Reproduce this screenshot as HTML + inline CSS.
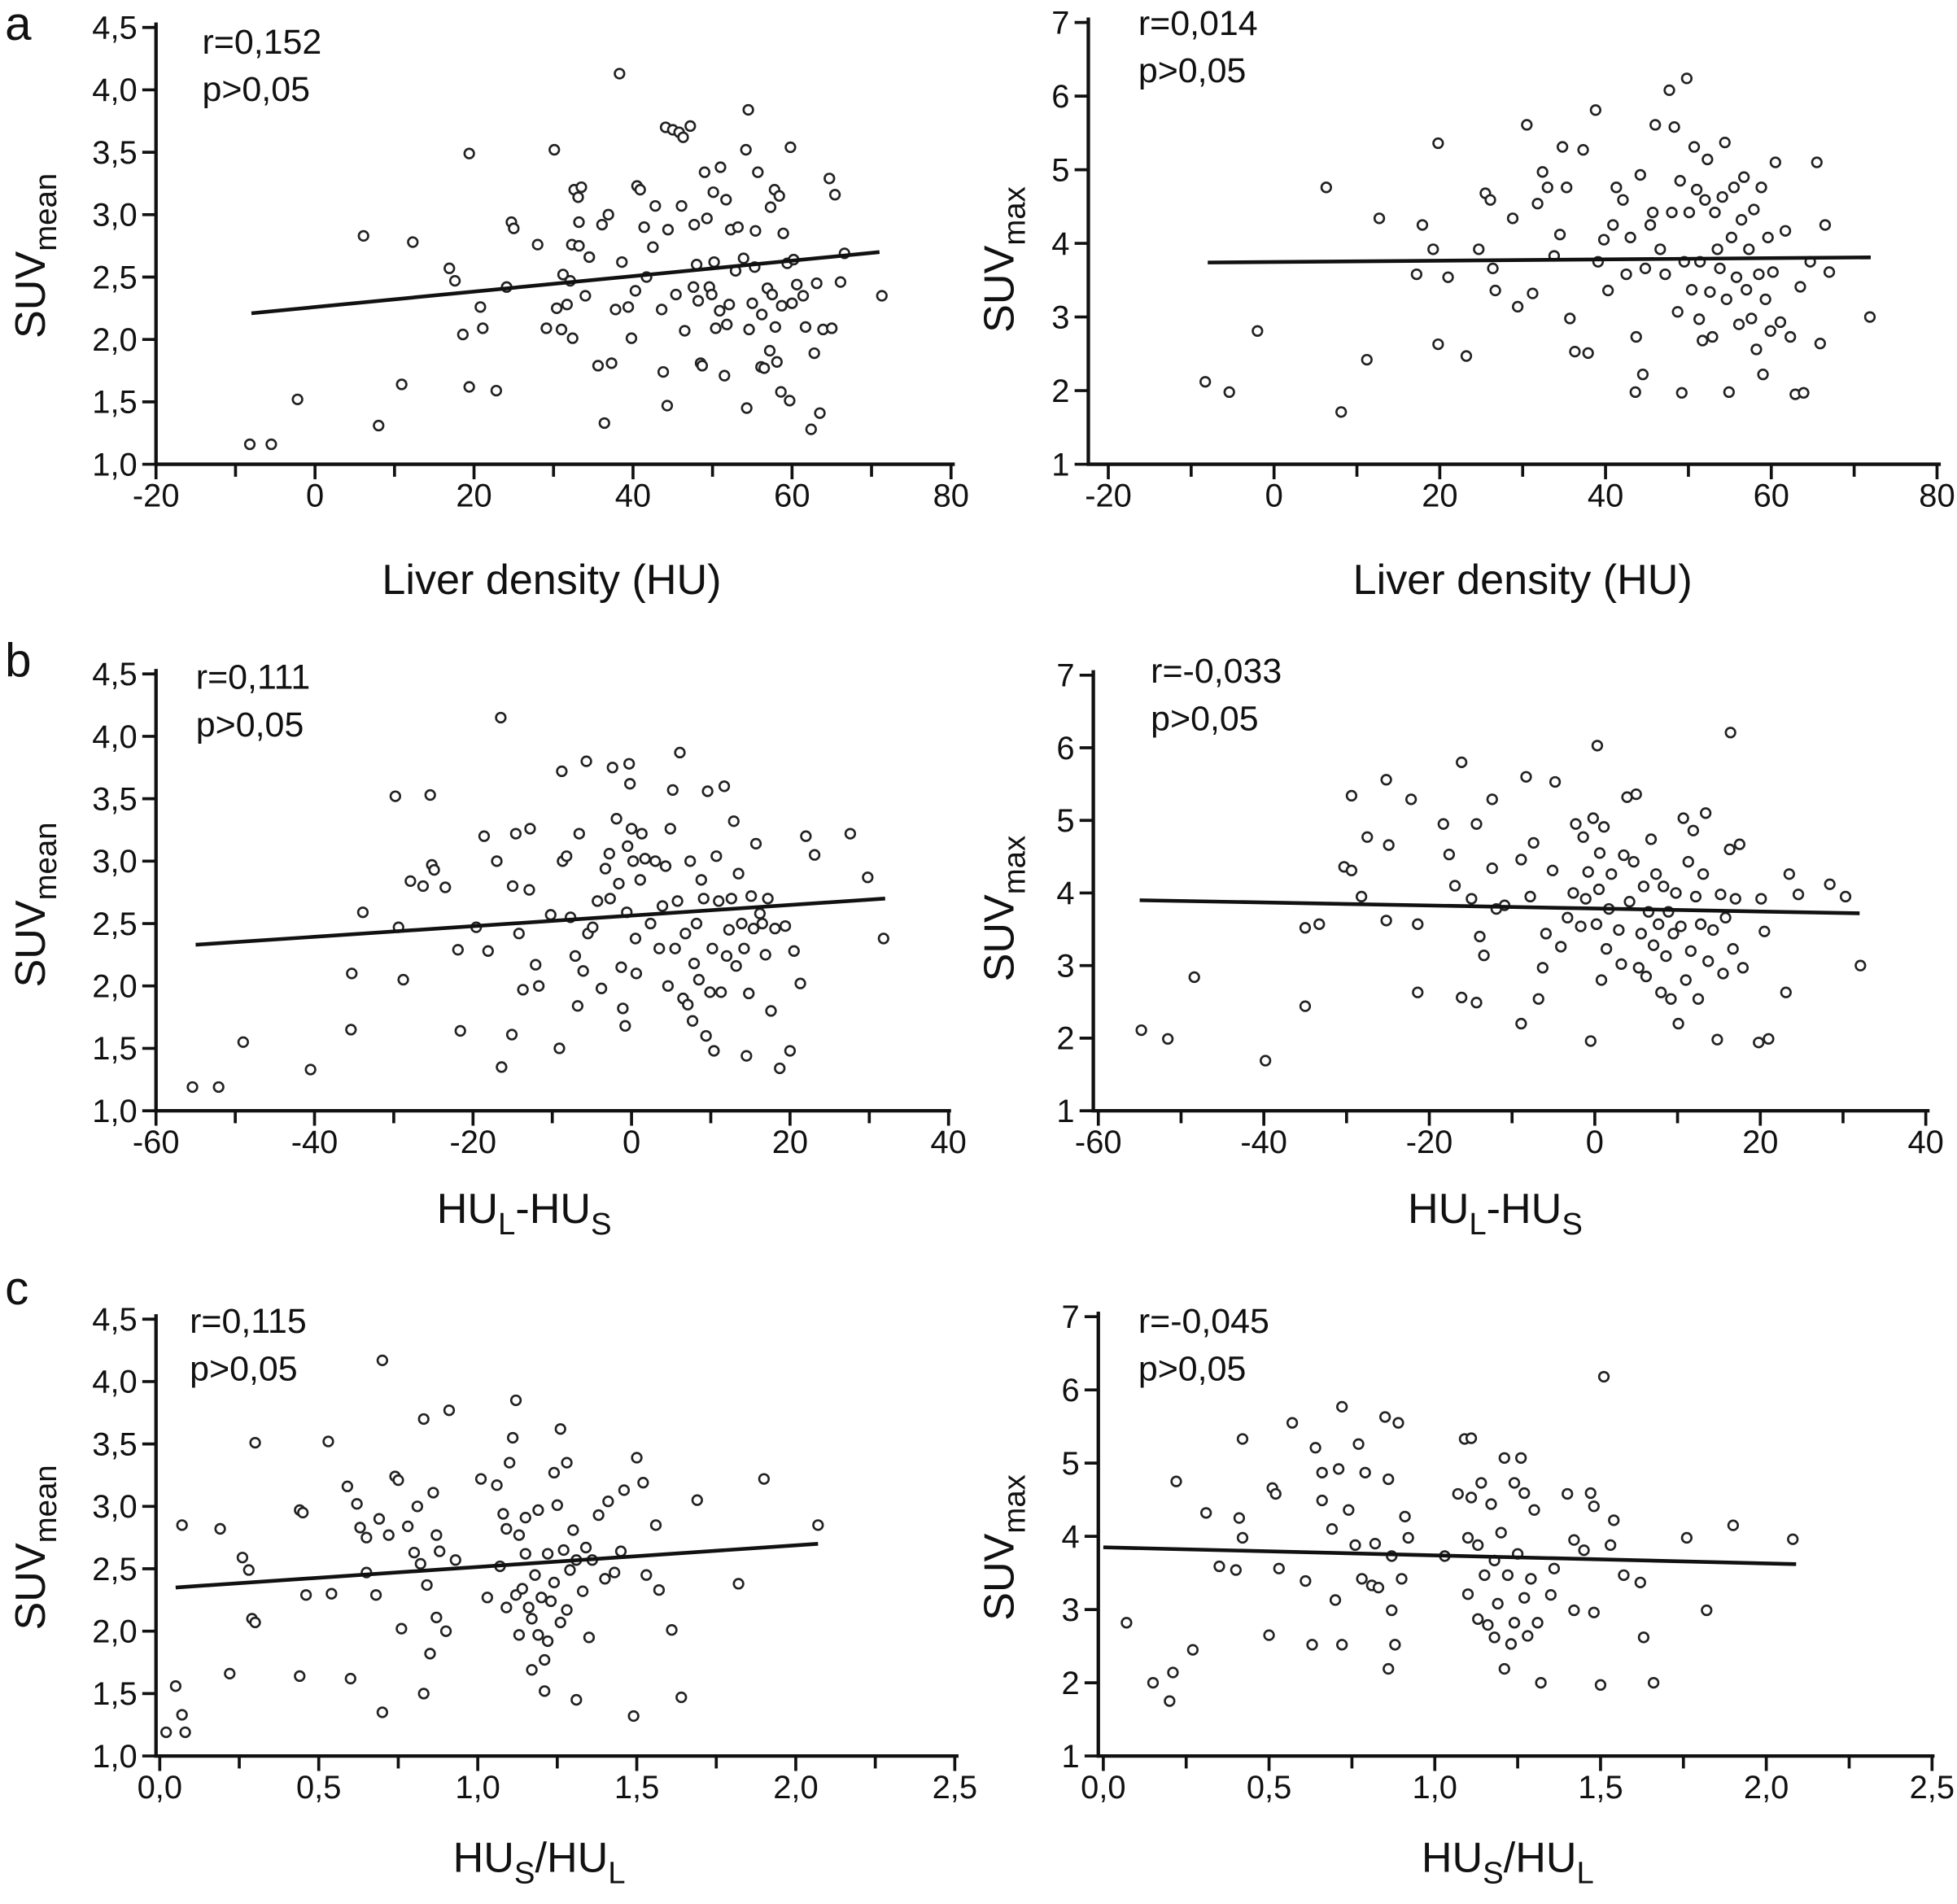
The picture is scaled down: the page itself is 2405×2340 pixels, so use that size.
<!DOCTYPE html>
<html><head><meta charset="utf-8"><style>
html,body{margin:0;padding:0;background:#fff}
svg{display:block}
text{font-family:"Liberation Sans",Arial,sans-serif;fill:#111}
</style></head><body>
<svg id="fig" width="2405" height="2340" viewBox="0 0 1568 1525.6" preserveAspectRatio="none" xmlns="http://www.w3.org/2000/svg">
<rect width="1568" height="1526" fill="#fff"/>
<text x="4" y="32" font-size="38">a</text>
<text x="4" y="542" font-size="38">b</text>
<text x="4" y="1045" font-size="38">c</text>
</svg>
<script>
// ---- data arrays ----
const aMeanX=[-8.2,-5.5,-2.2,6.1,8.0,10.9,12.3,16.9,17.6,18.6,19.4,19.4,20.8,21.1,22.8,24.1,24.7,25.0,28.0,29.1,30.1,30.4,31.0,31.2,31.7,32.1,32.3,32.4,32.6,33.1,33.2,33.2,33.5,34.0,34.5,35.6,36.1,36.4,36.9,37.3,37.8,38.3,38.6,39.4,39.8,40.3,40.5,40.9,41.4,41.7,42.5,42.8,43.6,43.8,44.1,44.3,44.4,45.0,45.4,45.8,46.1,46.3,46.5,47.2,47.6,47.7,48.0,48.2,48.5,48.7,49.0,49.3,49.6,49.9,50.1,50.2,50.4,50.9,51.0,51.5,51.7,51.8,52.1,52.3,52.9,53.2,53.9,54.2,54.3,54.5,54.6,55.0,55.3,55.4,55.7,56.1,56.2,56.5,56.9,57.2,57.3,57.5,57.8,57.9,58.1,58.4,58.6,58.7,58.9,59.4,59.7,59.8,60.0,60.2,60.6,61.4,61.7,62.4,62.8,63.1,63.5,63.9,64.7,65.0,65.4,66.1,66.6,71.3];
const aMeanY=[1.16,1.16,1.52,2.83,1.31,1.64,2.78,2.57,2.47,2.04,3.49,1.62,2.26,2.09,1.59,2.42,2.94,2.89,2.76,2.09,3.52,2.25,2.08,2.52,2.28,2.47,2.76,2.01,3.2,3.14,2.75,2.94,3.22,2.35,2.66,1.79,2.92,1.33,3.0,1.81,2.24,4.13,2.62,2.26,2.01,2.39,3.23,3.2,2.9,2.5,2.74,3.07,2.24,1.74,3.7,1.47,2.88,3.68,2.36,3.66,3.07,3.62,2.07,3.71,2.42,2.92,2.6,2.31,1.81,1.79,3.34,2.97,2.42,2.36,3.18,2.62,2.09,2.23,3.38,1.71,3.12,2.12,2.28,2.88,2.55,2.9,2.65,3.52,1.45,3.84,2.08,2.29,2.58,2.87,3.34,1.78,2.2,1.77,2.41,1.91,3.06,2.36,3.2,2.1,1.82,3.15,1.58,2.27,2.85,2.61,1.51,3.54,2.29,2.64,2.44,2.35,2.1,1.28,1.89,2.45,1.41,2.08,3.29,2.09,3.16,2.46,2.69,2.35];
const aMeanFit=[[-8,2.21],[71,2.70]];
const aMaxX=[-8.3,-5.4,-2.0,6.3,8.1,11.2,12.7,17.2,17.9,19.2,19.8,19.8,21.0,23.2,24.7,25.5,26.1,26.4,26.7,28.8,29.4,30.5,31.2,31.8,32.4,33.0,33.8,34.5,34.8,35.3,35.7,36.3,37.3,37.9,38.8,39.1,39.8,40.3,40.9,41.3,42.1,42.5,43.0,43.6,43.7,44.2,44.5,44.8,45.4,45.7,46.0,46.6,47.2,47.7,48.0,48.3,48.7,49.0,49.2,49.5,49.8,50.1,50.4,50.7,51.0,51.3,51.4,51.7,52.0,52.3,52.6,52.9,53.2,53.5,53.8,54.1,54.4,54.6,54.9,55.2,55.5,55.8,56.1,56.4,56.7,57.0,57.3,57.6,57.9,58.2,58.5,58.8,59.0,59.3,59.6,59.9,60.2,60.5,61.1,61.7,62.3,62.9,63.5,63.9,64.7,65.5,65.9,66.5,67.0,71.9];
const aMaxY=[2.12,1.98,2.81,4.76,1.71,2.42,4.34,3.58,4.25,3.92,5.36,2.63,3.54,2.47,3.92,4.68,4.59,3.66,3.36,4.34,3.14,5.61,3.32,4.54,4.97,4.76,3.83,4.12,5.31,4.76,2.98,2.53,5.27,2.51,5.81,3.75,4.05,3.36,4.25,4.76,4.59,3.58,4.08,1.98,2.73,4.93,2.22,3.66,4.25,4.42,5.61,3.92,3.58,6.08,4.42,5.58,3.07,4.85,1.97,3.75,6.24,4.42,3.37,5.31,4.73,2.97,3.75,2.68,4.59,5.14,3.34,2.73,4.42,3.92,3.66,4.63,5.37,3.24,1.98,4.08,4.76,3.54,2.9,4.32,4.9,3.37,3.92,2.98,4.46,2.56,3.58,4.76,2.22,3.24,4.08,2.81,3.61,5.1,2.93,4.17,2.73,1.95,3.41,1.97,3.75,5.1,2.64,4.25,3.61,3.0];
const aMaxFit=[[-8,3.74],[72,3.81]];
const bMeanX=[-55.4,-52.1,-49.0,-40.5,-35.4,-35.3,-33.9,-29.8,-29.4,-28.8,-27.9,-26.3,-25.4,-25.2,-24.9,-23.5,-21.9,-21.6,-19.6,-18.6,-18.1,-17.0,-16.5,-16.4,-15.1,-15.0,-14.6,-14.2,-13.7,-12.9,-12.8,-12.1,-11.7,-10.2,-9.1,-8.8,-8.7,-8.2,-7.7,-7.1,-6.8,-6.6,-6.1,-5.7,-5.5,-4.9,-4.3,-3.8,-3.3,-2.8,-2.7,-2.4,-1.9,-1.6,-1.3,-1.1,-0.8,-0.6,-0.5,-0.3,-0.2,0.0,0.2,0.5,0.6,1.1,1.3,1.7,2.4,3.0,3.5,3.9,4.3,4.6,4.9,5.2,5.5,5.8,6.1,6.5,6.8,7.1,7.4,7.7,7.9,8.2,8.5,8.8,9.1,9.4,9.6,9.9,10.2,10.4,10.7,11.0,11.3,11.7,12.0,12.3,12.6,12.9,13.2,13.5,13.9,14.2,14.5,14.8,15.1,15.4,15.7,16.2,16.5,16.9,17.2,17.6,18.1,18.7,19.4,20.0,20.5,21.3,22.0,23.1,27.6,29.8,31.8];
const bMeanY=[1.19,1.19,1.55,1.33,1.65,2.1,2.59,3.52,2.47,2.05,2.84,2.8,3.53,2.97,2.93,2.79,2.29,1.64,2.47,3.2,2.28,3.0,4.15,1.35,1.61,2.8,3.22,2.42,1.97,2.77,3.26,2.17,2.0,2.57,1.5,3.72,3.0,3.04,2.55,2.24,1.84,3.22,2.12,3.8,2.42,2.47,2.68,1.98,2.94,3.06,2.7,3.75,3.34,2.82,2.15,1.82,1.68,2.59,3.12,3.78,3.62,3.26,3.0,2.38,2.1,2.85,3.22,3.02,2.5,3.0,2.3,2.64,2.96,2.0,3.26,3.57,2.3,2.68,3.87,1.9,2.42,1.85,3.0,1.72,2.18,2.5,2.05,2.85,2.7,1.6,3.56,1.95,2.3,1.48,3.04,2.68,1.95,3.6,2.24,2.45,2.7,3.32,2.16,2.9,2.5,2.3,1.44,1.94,2.72,2.46,3.14,2.58,2.5,2.25,2.7,1.8,2.46,1.34,2.48,1.48,2.28,2.02,3.2,3.05,3.22,2.87,2.38];
const bMeanFit=[[-55,2.33],[32,2.70]];
const bMaxX=[-54.8,-51.6,-48.4,-39.8,-35.0,-35.0,-33.3,-30.3,-29.4,-29.4,-28.2,-27.5,-25.2,-25.2,-24.9,-22.2,-21.4,-21.4,-18.3,-17.6,-16.9,-16.1,-16.1,-14.9,-14.3,-14.3,-13.9,-13.4,-12.4,-12.4,-11.9,-10.9,-8.9,-8.9,-8.3,-7.8,-7.4,-6.8,-6.3,-5.9,-5.1,-4.8,-4.1,-3.3,-2.6,-2.3,-1.7,-1.4,-1.1,-0.8,-0.5,-0.2,0.2,0.3,0.5,0.6,0.8,1.1,1.4,1.7,2.0,2.9,3.2,3.5,3.9,4.2,4.7,5.0,5.3,5.6,5.9,6.2,6.5,6.8,7.1,7.4,7.7,8.0,8.3,8.6,8.9,9.2,9.5,9.8,10.1,10.4,10.7,11.0,11.3,11.6,11.9,12.2,12.5,12.8,13.1,13.4,13.7,14.3,14.8,15.2,15.5,15.8,16.3,16.4,16.7,17.0,17.5,17.9,19.8,20.1,20.5,21.0,23.1,23.5,24.6,28.4,30.3,32.1];
const bMaxY=[2.11,1.99,2.84,1.69,2.44,3.52,3.57,4.36,5.34,4.31,3.95,4.77,3.62,5.56,4.66,5.29,2.63,3.57,4.95,4.53,4.1,5.8,2.56,3.92,2.49,4.95,3.4,3.14,5.29,4.34,3.78,3.83,2.2,4.46,5.6,3.95,4.69,2.54,2.97,3.44,4.31,5.53,3.26,3.66,4.0,4.95,3.54,4.77,3.92,4.29,1.96,5.03,3.57,6.03,4.05,4.55,2.8,4.91,3.23,3.78,4.26,3.49,3.02,4.52,5.32,3.88,4.43,5.36,2.97,3.44,4.09,2.85,3.74,4.74,3.28,4.26,3.57,2.63,4.09,3.13,3.74,2.54,3.44,4.0,2.2,3.54,5.03,2.8,4.43,3.2,4.86,3.95,2.54,3.57,4.26,5.1,3.06,3.49,1.98,3.98,2.89,3.66,4.6,6.21,3.23,3.92,4.67,2.97,1.94,3.92,3.47,1.99,2.63,4.26,3.98,4.12,3.95,3.0];
const bMaxFit=[[-55,3.90],[32,3.72]];
const cMeanX=[0.05,0.07,0.02,0.08,0.07,0.19,0.22,0.26,0.28,0.29,0.30,0.30,0.44,0.45,0.44,0.46,0.53,0.54,0.59,0.60,0.62,0.63,0.65,0.65,0.68,0.69,0.70,0.70,0.72,0.74,0.75,0.76,0.78,0.80,0.81,0.82,0.83,0.83,0.84,0.85,0.86,0.87,0.87,0.88,0.90,0.91,0.93,1.01,1.03,1.06,1.07,1.08,1.09,1.09,1.10,1.11,1.12,1.12,1.13,1.13,1.14,1.15,1.15,1.16,1.17,1.17,1.18,1.19,1.19,1.20,1.21,1.21,1.22,1.22,1.23,1.24,1.24,1.25,1.26,1.26,1.27,1.28,1.28,1.29,1.30,1.31,1.31,1.33,1.34,1.35,1.36,1.38,1.40,1.41,1.43,1.45,1.46,1.49,1.50,1.52,1.53,1.56,1.57,1.61,1.64,1.69,1.82,1.90,2.07];
const cMeanY=[1.56,2.85,1.19,1.19,1.33,2.82,1.66,2.59,2.49,2.1,2.07,3.51,2.97,2.95,1.64,2.29,3.52,2.3,3.16,1.62,3.02,2.83,2.75,2.47,2.29,2.9,4.17,1.35,2.77,3.24,3.21,2.02,2.84,2.63,3.0,2.54,3.7,1.5,2.37,1.82,3.11,2.77,2.11,2.64,2.0,3.77,2.57,3.22,2.27,3.17,2.52,2.94,2.19,2.82,3.35,3.55,2.29,3.85,2.77,1.97,2.34,2.91,2.62,2.19,1.69,2.1,2.45,2.97,1.97,2.27,1.77,1.52,2.62,1.92,2.24,3.27,2.39,3.01,2.07,3.62,2.65,2.17,3.35,2.49,2.81,1.45,2.57,2.32,2.67,1.95,2.57,2.93,2.42,3.04,2.47,2.64,3.13,1.32,3.39,3.19,2.45,2.85,2.33,2.01,1.47,3.05,2.38,3.22,2.85];
const cMeanFit=[[0.05,2.35],[2.07,2.70]];
const cMaxX=[0.07,0.15,0.20,0.21,0.22,0.27,0.31,0.35,0.40,0.41,0.42,0.42,0.51,0.52,0.53,0.50,0.57,0.61,0.63,0.64,0.66,0.66,0.69,0.70,0.71,0.72,0.72,0.74,0.76,0.77,0.78,0.79,0.81,0.82,0.83,0.85,0.86,0.86,0.87,0.87,0.88,0.89,0.90,0.91,0.92,1.03,1.07,1.09,1.10,1.10,1.11,1.11,1.13,1.13,1.14,1.15,1.16,1.17,1.18,1.18,1.19,1.20,1.21,1.21,1.22,1.23,1.24,1.24,1.25,1.26,1.27,1.27,1.28,1.29,1.30,1.31,1.32,1.35,1.36,1.40,1.42,1.42,1.45,1.47,1.48,1.48,1.50,1.51,1.53,1.54,1.57,1.62,1.63,1.66,1.76,1.82,1.90,2.08];
const cMaxY=[2.82,2.0,1.75,2.14,4.75,2.45,4.32,3.59,3.54,4.25,5.33,3.98,4.66,4.58,3.56,2.65,5.55,3.39,2.52,5.21,4.87,4.49,4.1,3.13,4.92,2.52,5.77,4.36,3.88,5.26,3.42,4.87,3.33,3.9,3.3,5.63,4.78,2.19,2.99,3.73,2.52,5.55,3.42,4.27,3.98,3.73,4.58,5.33,3.21,3.98,4.53,5.34,2.87,3.88,4.73,3.47,2.79,4.44,2.62,3.67,3.08,4.05,2.19,5.07,3.47,2.53,2.82,4.73,3.76,5.07,3.16,4.59,2.64,3.42,4.36,2.82,2.0,3.2,3.56,4.58,2.99,3.95,3.81,4.59,4.41,2.96,1.97,6.18,3.88,4.22,3.47,3.37,2.62,2.0,3.98,2.99,4.15,3.96];
const cMaxFit=[[0,3.85],[2.09,3.62]];
// tick label arrays
const xTicksA=[-20,0,20,40,60,80];
const xTicksB=[-60,-40,-20,0,20,40];
const xTicksC=[0,0.5,1.0,1.5,2.0,2.5];
const yTicksMean=[1.0,1.5,2.0,2.5,3.0,3.5,4.0,4.5];
const yTicksMax=[1,2,3,4,5,6,7];

const NS="http://www.w3.org/2000/svg";
const svg=document.getElementById('fig');
function mk(tag,attrs,parent){const e=document.createElementNS(NS,tag);for(const k in attrs)e.setAttribute(k,attrs[k]);(parent||svg).appendChild(e);return e;}
function fmt(v,dec){return dec?v.toFixed(dec).replace('.',','):String(v);}

function panel(p){
  const g=mk('g',{});
  
  
  const sx=v=>p.px0+(v-p.xt[0])*(p.px1-p.px0)/(p.xt[p.xt.length-1]-p.xt[0]);
  const sy=v=>p.py0+(v-p.yt[0])*(p.py1-p.py0)/(p.yt[p.yt.length-1]-p.yt[0]);
  const ax=mk('path',{d:`M${p.axX},${p.py1-4}V${p.py0}H${p.axEnd}`,stroke:'#111','stroke-width':2.8,fill:'none'},g);
  
  
  p.yt.forEach(v=>{
    mk('line',{x1:p.axX-11,x2:p.axX,y1:sy(v),y2:sy(v),stroke:'#111','stroke-width':2.4},g);
    const t=mk('text',{x:p.axX-15,y:sy(v)+9,'font-size':26,'text-anchor':'end'},g);
    t.textContent=fmt(v,p.ydec);
    
    
  });
  p.xt.forEach((v,i)=>{
    mk('line',{x1:sx(v),x2:sx(v),y1:p.py0,y2:p.py0+12,stroke:'#111','stroke-width':2.4},g);
    if(i<p.xt.length-1){const m=(v+p.xt[i+1])/2;mk('line',{x1:sx(m),x2:sx(m),y1:p.py0,y2:p.py0+10,stroke:'#111','stroke-width':2.4},g);}
    const t=mk('text',{x:sx(v),y:p.py0+34,'font-size':26,'text-anchor':'middle'},g);
    t.textContent=fmt(v,p.xdec);
    
    
  });
  p.xs.forEach((x,i)=>{
    const c=mk('circle',{cx:sx(x),cy:sy(p.ys[i]),r:3.8,fill:'#fff',stroke:'#222','stroke-width':1.7},g);
    
    
  });
  const fl=mk('line',{x1:sx(p.fit[0][0]),y1:sy(p.fit[0][1]),x2:sx(p.fit[1][0]),y2:sy(p.fit[1][1]),stroke:'#111','stroke-width':3},g);
  
  
  const r1=mk('text',{x:p.rx,y:p.ry,'font-size':28},g);r1.textContent=p.r;
  
  
  const r2=mk('text',{x:p.rx,y:p.ry+38,'font-size':28},g);r2.textContent='p>0,05';
  
  
  const yt=mk('text',{transform:`translate(${p.ytx},${p.yty}) rotate(-90)`,'font-size':34,'text-anchor':'middle'},g);
  yt.innerHTML='SUV<tspan font-size="25" dy="9">'+p.ysub+'</tspan>';
  
  
  const xt=mk('text',{x:p.xtx,y:p.xty,'font-size':34,'text-anchor':'middle'},g);
  xt.innerHTML=p.xtitle;
  
  
}
const HUd='HU<tspan font-size="25" dy="9">L</tspan><tspan dy="-9">-HU</tspan><tspan font-size="25" dy="9">S</tspan>';
const HUr='HU<tspan font-size="25" dy="9">S</tspan><tspan dy="-9">/HU</tspan><tspan font-size="25" dy="9">L</tspan>';
panel({name:'panel-a-mean',xs:aMeanX,ys:aMeanY,fit:aMeanFit,xt:xTicksA,yt:yTicksMean,xdec:0,ydec:1,px0:125,px1:762,py0:372,py1:22,axX:125,axEnd:765,r:'r=0,152',rx:162,ry:43,ysub:'mean',ytx:36,yty:205,xtitle:'Liver density (HU)',xtx:442,xty:476});
panel({name:'panel-a-max',xs:aMaxX,ys:aMaxY,fit:aMaxFit,xt:xTicksA,yt:yTicksMax,xdec:0,ydec:0,px0:888,px1:1552,py0:372,py1:18,axX:872,axEnd:1555,r:'r=0,014',rx:912,ry:28,ysub:'max',ytx:812,yty:208,xtitle:'Liver density (HU)',xtx:1220,xty:476});
panel({name:'panel-b-mean',xs:bMeanX,ys:bMeanY,fit:bMeanFit,xt:xTicksB,yt:yTicksMean,xdec:0,ydec:1,px0:125,px1:760,py0:890,py1:540,axX:125,axEnd:762,r:'r=0,111',rx:157,ry:552,ysub:'mean',ytx:36,yty:725,xtitle:HUd,xtx:420,xty:980});
panel({name:'panel-b-max',xs:bMaxX,ys:bMaxY,fit:bMaxFit,xt:xTicksB,yt:yTicksMax,xdec:0,ydec:0,px0:880,px1:1543,py0:890,py1:541,axX:876,axEnd:1546,r:'r=-0,033',rx:922,ry:547,ysub:'max',ytx:812,yty:728,xtitle:HUd,xtx:1198,xty:980});
panel({name:'panel-c-mean',xs:cMeanX,ys:cMeanY,fit:cMeanFit,xt:xTicksC,yt:yTicksMean,xdec:1,ydec:1,px0:128,px1:765,py0:1407,py1:1057,axX:125,axEnd:768,r:'r=0,115',rx:152,ry:1068,ysub:'mean',ytx:36,yty:1240,xtitle:HUr,xtx:432,xty:1500});
panel({name:'panel-c-max',xs:cMaxX,ys:cMaxY,fit:cMaxFit,xt:xTicksC,yt:yTicksMax,xdec:1,ydec:0,px0:884,px1:1548,py0:1407,py1:1055,axX:880,axEnd:1550,r:'r=-0,045',rx:912,ry:1068,ysub:'max',ytx:812,yty:1240,xtitle:HUr,xtx:1208,xty:1500});
</script>
</body></html>
